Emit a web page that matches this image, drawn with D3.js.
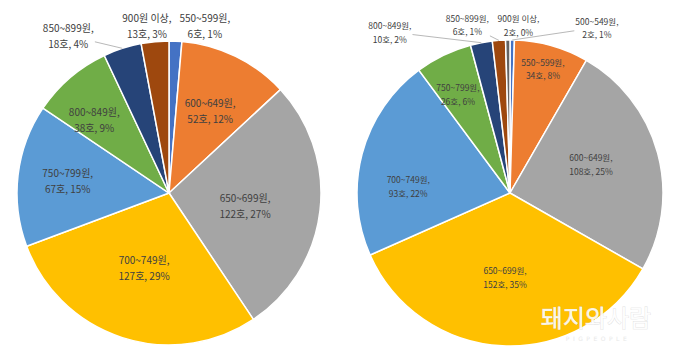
<!DOCTYPE html>
<html><head><meta charset="utf-8">
<script src="https://cdn.jsdelivr.net/npm/d3@7"></script>
<style>html,body{margin:0;padding:0;background:#fff;}svg{display:block;}</style>
</head><body>
<svg id="chart" width="680" height="360"></svg>
<script>
// ---- data ----
const leftCategories = ["550~599원", "600~649원", "650~699원", "700~749원", "750~799원", "800~849원", "850~899원", "900원 이상"];
const leftValues = [6, 52, 122, 127, 67, 38, 18, 13];
const leftPercents = ["1%", "12%", "27%", "29%", "15%", "9%", "4%", "3%"];

const rightCategories = ["500~549원", "550~599원", "600~649원", "650~699원", "700~749원", "750~799원", "800~849원", "850~899원", "900원 이상"];
const rightValues = [2, 34, 108, 152, 93, 26, 10, 6, 2];
const rightPercents = ["1%", "8%", "25%", "35%", "22%", "6%", "2%", "1%", "0%"];

// ---- layout (label polar positions: [angle deg, radius px]) ----
const leftLabelPos = [[12.1,171],[26.6,92],[99,77],[198.4,79],[276.8,102],[314.6,105],[327.4,187],[352.5,169]];
const rightLabelPos = [[27.7,187],[14.8,129],[70.3,86],[183.4,84],[274,102],[332.3,112],[323.3,201],[345.8,174],[2.9,168]];

const leftColors = ["#4472C4","#ED7D31","#A5A5A5","#FFC000","#5B9BD5","#70AD47","#264478","#9E480E"];
const rightColors = ["#4472C4","#ED7D31","#A5A5A5","#FFC000","#5B9BD5","#70AD47","#264478","#9E480E","#636363"];

const svg = d3.select("#chart");
const FONT = "'Noto Sans CJK KR', 'Noto Sans', sans-serif";

function drawPie(cx, cy, r, cats, vals, pcts, colors, labelPos, fontSize, lh) {
  const g = svg.append("g").attr("transform", `translate(${cx},${cy})`);
  const pie = d3.pie().sort(null).value(d => d.v);
  const data = pie(cats.map((c, i) => ({c, v: vals[i], p: pcts[i], i})));
  const arc = d3.arc().innerRadius(0).outerRadius(r);
  g.selectAll("path.slice").data(data).join("path")
    .attr("class", "slice")
    .attr("d", arc)
    .attr("fill", d => colors[d.data.i])
    .attr("stroke", "#fff").attr("stroke-width", 1.5);

  data.forEach(d => {
    const [ang, rad] = labelPos[d.data.i];
    const a = ang * Math.PI / 180;
    const lx = rad * Math.sin(a), ly = -rad * Math.cos(a);
    const t = g.append("text")
      .attr("text-anchor", "middle")
      .attr("font-family", FONT)
      .attr("font-size", fontSize)
      .attr("fill", "#404040");
    t.append("tspan").attr("x", lx).attr("y", ly - lh / 2).attr("dominant-baseline", "central").text(d.data.c + ",");
    t.append("tspan").attr("x", lx).attr("y", ly + lh / 2).attr("dominant-baseline", "central").text(d.data.v + "호, " + d.data.p);

    if (rad > r) {
      const mid = (d.startAngle + d.endAngle) / 2;
      const px = r * Math.sin(mid), py = -r * Math.cos(mid);
      const bb = t.node().getBBox();
      const x0 = bb.x - 1, x1 = bb.x + bb.width + 1, y0 = bb.y - 1, y1 = bb.y + bb.height + 1;
      const dx = px - lx, dy = py - ly;
      let tt = 1;
      if (dx > 0) tt = Math.min(tt, (x1 - lx) / dx);
      if (dx < 0) tt = Math.min(tt, (x0 - lx) / dx);
      if (dy > 0) tt = Math.min(tt, (y1 - ly) / dy);
      if (dy < 0) tt = Math.min(tt, (y0 - ly) / dy);
      const sx = lx + dx * tt, sy = ly + dy * tt;
      const len = Math.hypot(px - sx, py - sy);
      if (tt < 1 && len > 5) {
        g.append("line").attr("x1", sx).attr("y1", sy).attr("x2", px).attr("y2", py)
          .attr("stroke", "#A6A6A6").attr("stroke-width", 0.8);
      }
    }
  });
}

drawPie(169, 193, 152, leftCategories, leftValues, leftPercents, leftColors, leftLabelPos, 10, 16);
drawPie(510, 193, 153, rightCategories, rightValues, rightPercents, rightColors, rightLabelPos, 8.5, 13.5);

// watermark
svg.append("text").attr("x", 596).attr("y", 327).attr("text-anchor", "middle")
  .attr("font-family", FONT).attr("font-size", 24)
  .attr("fill", "#fff").attr("fill-opacity", 0.9)
  .attr("stroke", "#d8d8d8").attr("stroke-width", 0.6).attr("paint-order", "stroke")
  .text("돼지와사람");
svg.append("text").attr("x", 598).attr("y", 341).attr("text-anchor", "middle")
  .attr("font-family", "'DejaVu Sans', sans-serif").attr("font-size", 6)
  .attr("letter-spacing", 3.5)
  .attr("fill", "#e8e8e8").text("PIGPEOPLE");
</script>
</body></html>
